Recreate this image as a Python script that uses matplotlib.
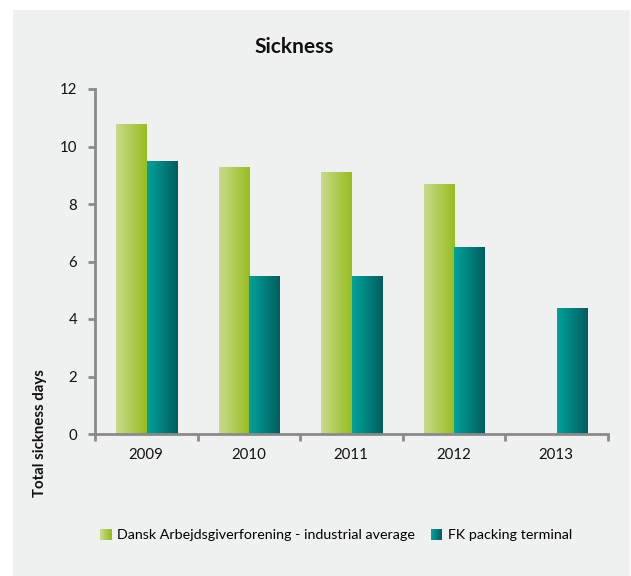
import numpy as np
import matplotlib
matplotlib.use('Agg')
import matplotlib.pyplot as plt
from matplotlib.colors import LinearSegmentedColormap
from matplotlib.patches import Rectangle
from matplotlib.legend_handler import HandlerBase

plt.rcParams['font.family'] = ['Lato', 'DejaVu Sans']

# ── Data ────────────────────────────────────────────────
years = ['2009', '2010', '2011', '2012', '2013']
industry_avg = [10.8, 9.3, 9.1, 8.7, np.nan]
fk_terminal = [9.5, 5.5, 5.5, 6.5, 4.4]
series_names = ['Dansk Arbejdsgiverforening - industrial average', 'FK packing terminal']

GREEN = ('#c8da8c', '#98bd1f')
TEAL = ('#00a29c', '#005e5e')
BG = '#eff1f0'
AXIS = '#8a8a8a'


def gradient_cmap(pair):
    return LinearSegmentedColormap.from_list('g', list(pair))


class GradientSquare(HandlerBase):
    def __init__(self, pair, **kw):
        super().__init__(**kw)
        self.cmap = gradient_cmap(pair)

    def create_artists(self, legend, orig_handle, xdescent, ydescent,
                       width, height, fontsize, trans):
        n = 16
        size = height
        x0 = -xdescent + (width - size) / 2
        out = []
        for i in range(n):
            out.append(Rectangle((x0 + i * size / n, -ydescent), size / n + 0.3, size,
                                 facecolor=self.cmap(i / (n - 1)), edgecolor='none',
                                 transform=trans))
        return out


def shade_bars(ax, bars, pair):
    # horizontal left-to-right gradient clipped to each bar
    grad = np.linspace(0, 1, 64).reshape(1, -1)
    cmap = gradient_cmap(pair)
    for b in bars:
        h = b.get_height()
        if np.isnan(h):
            continue
        x0 = b.get_x()
        im = ax.imshow(grad, cmap=cmap, aspect='auto',
                       extent=(x0, x0 + b.get_width(), 0, h), zorder=2)
        im.set_clip_path(b)


W, H = 631, 576
fig = plt.figure(figsize=(W / 100, H / 100), dpi=100, facecolor='white')
# grey panel behind the chart, leaving a white margin top/left
bg = fig.add_axes([13 / W, 0, (630 - 13) / W, (H - 10) / H], zorder=0)
bg.set_facecolor(BG)
bg.set_axis_off()
bg.add_patch(Rectangle((0, 0), 1, 1, transform=bg.transAxes, facecolor=BG, edgecolor='none'))

ax = fig.add_axes([95 / W, (H - 434) / H, (607.5 - 95) / W, (434 - 89) / H], zorder=1)
ax.set_facecolor('none')

x = np.arange(len(years))
bw = 0.30
b1 = ax.bar(x - 0.145, industry_avg, bw, facecolor='none', edgecolor='none', label=series_names[0])
b2 = ax.bar(x + 0.155, fk_terminal, bw, facecolor='none', edgecolor='none', label=series_names[1])
shade_bars(ax, b1, GREEN)
shade_bars(ax, b2, TEAL)

ax.set_xlim(-0.5, len(years) - 0.5)
ax.set_ylim(0, 12)
ax.set_yticks(np.arange(0, 13, 2))
ax.set_xticks(x)
ax.set_xticklabels(years)
ax.set_xticks(np.arange(-0.5, len(years), 1), minor=True)
ax.tick_params(axis='x', which='major', length=0, pad=10, labelsize=10.8, labelcolor='#111111')
ax.tick_params(axis='x', which='minor', length=5, width=2, color=AXIS, direction='out')
ax.tick_params(axis='y', length=5, width=2, color=AXIS, pad=8, labelsize=10.8, labelcolor='#111111')

for s in ('top', 'right'):
    ax.spines[s].set_visible(False)
for s in ('left', 'bottom'):
    ax.spines[s].set_color(AXIS)
    ax.spines[s].set_linewidth(2)

fig.text(294 / W, 1 - 47 / H, 'Sickness', ha='center', va='center',
         fontsize=15, fontweight='bold', color='#111111', zorder=3)
fig.text(40 / W, 1 - 433 / H, 'Total sickness days', ha='center', va='center',
         rotation=90, fontsize=10.8, fontweight='bold', color='#111111', zorder=3)

leg = fig.legend([b1, b2], series_names, loc='center', bbox_to_anchor=(336 / W, 1 - 535 / H),
                 ncol=2, frameon=False, fontsize=10.3, handlelength=0.8, handleheight=0.8,
                 handletextpad=0.4, columnspacing=1.1,
                 handler_map={b1: GradientSquare(GREEN), b2: GradientSquare(TEAL)})
leg.set_zorder(3)

fig.savefig('out.png', dpi=100, facecolor='white')
